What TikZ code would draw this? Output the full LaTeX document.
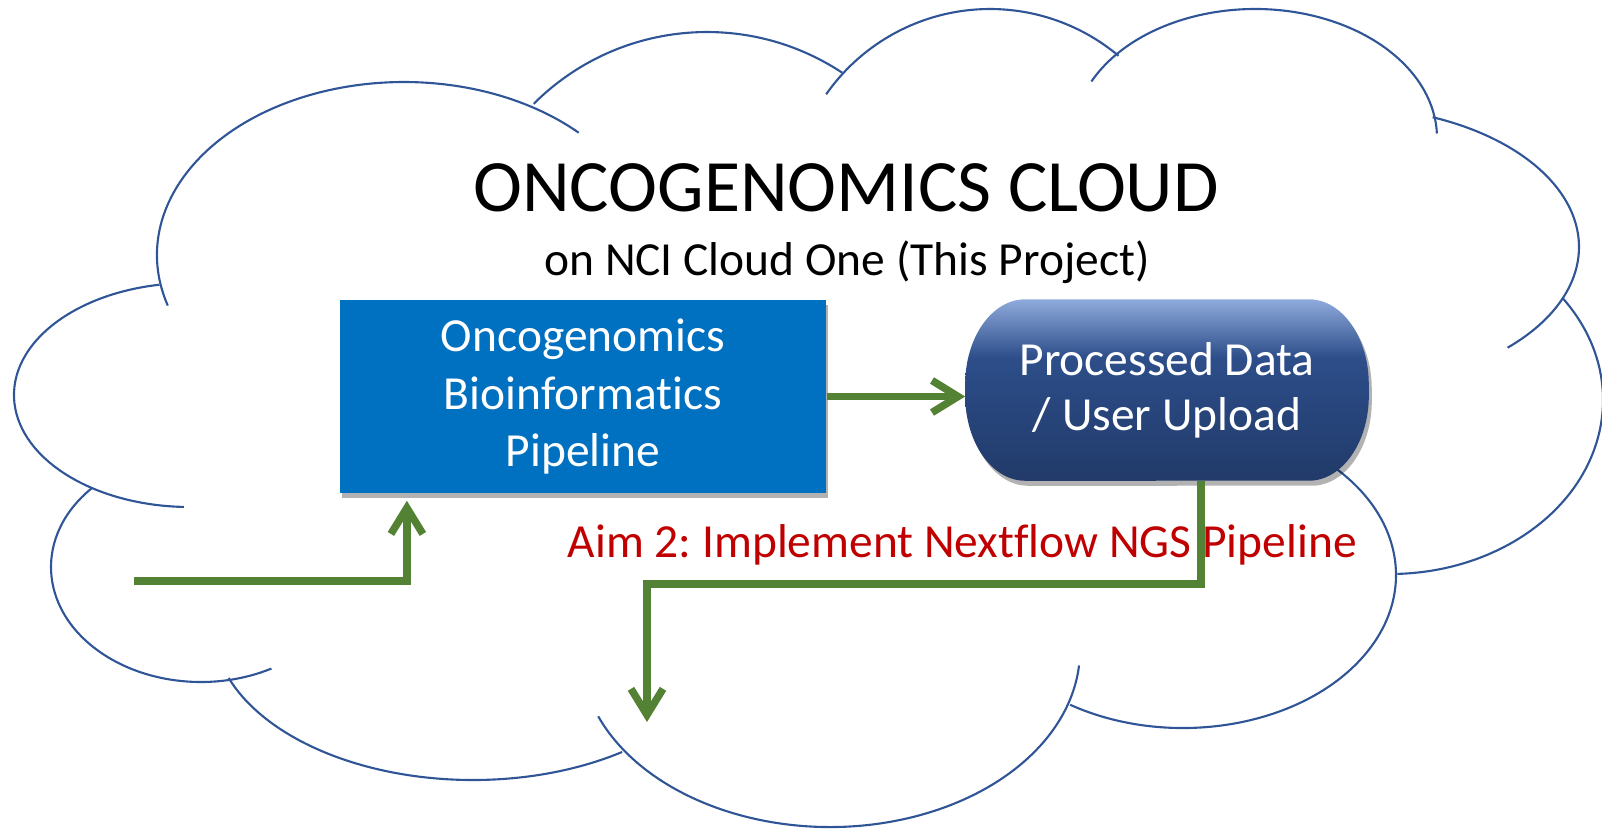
\documentclass[tikz,border=0pt]{standalone}
\usepackage{fontspec}
\setmainfont{Carlito}[Ligatures=NoCommon]
\frenchspacing
\usetikzlibrary{arrows.meta,shadows,backgrounds}

\definecolor{cloudblue}{HTML}{2F5597}
\definecolor{pipeblue}{HTML}{0070C0}
\definecolor{flowgreen}{HTML}{548235}
\definecolor{aimred}{HTML}{C00000}
\definecolor{datatop}{HTML}{8FAADC}
\definecolor{datamid}{HTML}{2D4E8A}
\definecolor{databot}{HTML}{213A69}
\pgfdeclareverticalshading{datafill}{100bp}{color(0bp)=(databot); color(25bp)=(databot); color(59bp)=(datamid); color(75bp)=(datatop); color(100bp)=(datatop)}

\tikzset{
  cloudline/.style={draw=cloudblue, line width=0.6pt},
  flow/.style={draw=flowgreen, line width=0.075cm, -{Straight Barb[length=0.26cm, width=0.32cm]}},
  boxtext/.style={text=white, align=center, inner sep=0pt},
}

\begin{document}
\begin{tikzpicture}[x=0.01cm, y=-0.01cm]
\useasboundingbox (0,0) rectangle (1602,829);

% cloud outline, one arc per bump
\begin{scope}[on background layer]
\draw[cloudline] (404,255) ++(163:247 and 173) arc[start angle=163, end angle=315, x radius=247, y radius=173];
\draw[cloudline] (190,395) ++(260:176 and 112) arc[start angle=260, end angle=92, x radius=176, y radius=112];
\draw[cloudline] (201,567) ++(223:150 and 115) arc[start angle=223, end angle=62, x radius=150, y radius=115];
\draw[cloudline] (473,625) ++(160:260 and 155) arc[start angle=160, end angle=55, x radius=260, y radius=155];
\draw[cloudline] (830,650) ++(158:250 and 177) arc[start angle=158, end angle=5, x radius=250, y radius=177];
\draw[cloudline] (1183,575) ++(122:213 and 153) arc[start angle=122, end angle=-45, x radius=213, y radius=153];
\draw[cloudline] (1390,400) ++(-36:213 and 174) arc[start angle=-36, end angle=88, x radius=213, y radius=174];
\draw[cloudline] (1345,247) ++(292:234 and 140) arc[start angle=292, end angle=406, x radius=234, y radius=140];
\draw[cloudline] (1255,138) ++(206:182 and 129) arc[start angle=206, end angle=358, x radius=182, y radius=129];
\draw[cloudline] (990,209) ++(215:200 and 200) arc[start angle=215, end angle=310, x radius=200, y radius=200];
\draw[cloudline] (707,277) ++(225:245 and 245) arc[start angle=225, end angle=303.5, x radius=245, y radius=245];
\end{scope}

\node[font=\fontsize{21}{25}\selectfont, anchor=base, inner sep=0pt] (title) at (846,211) {ONCOGENOMICS CLOUD};
\node[font=\fontsize{13.5}{16}\selectfont, anchor=base, inner sep=0pt] (subtitle) at (847,275) {on NCI Cloud One (This Project)};

\node[boxtext, font=\fontsize{13.5}{16.3}\selectfont, fill=pipeblue, minimum width=4.86cm, minimum height=1.93cm,
  drop shadow={shadow xshift=0.02cm, shadow yshift=-0.05cm, fill=black, opacity=0.3}] (pipe) at (583,396.5) {Oncogenomics\\Bioinformatics\\Pipeline};
\node[boxtext, font=\fontsize{13.5}{15.7}\selectfont, minimum width=4.02cm, minimum height=1.8cm] (data) at (1167,390) {Processed Data\\/ User Upload};

% capsule behind the data node
\begin{scope}[on background layer]
\fill[black, opacity=0.3, transform canvas={shift={(0.03cm,-0.05cm)}}] ([xshift=0.6cm]data.north west) -- ([xshift=-0.6cm]data.north east)
  arc[start angle=270, end angle=360, x radius=60, y radius=85] -- ([yshift=0.85cm]data.south east)
  arc[start angle=0, end angle=90, x radius=60, y radius=85] -- ([xshift=0.6cm]data.south west)
  arc[start angle=90, end angle=180, x radius=60, y radius=85] -- ([yshift=-0.85cm]data.north west)
  arc[start angle=180, end angle=270, x radius=60, y radius=85] -- cycle;
\shade[shading=datafill] ([xshift=0.6cm]data.north west) -- ([xshift=-0.6cm]data.north east)
  arc[start angle=270, end angle=360, x radius=60, y radius=85] -- ([yshift=0.85cm]data.south east)
  arc[start angle=0, end angle=90, x radius=60, y radius=85] -- ([xshift=0.6cm]data.south west)
  arc[start angle=90, end angle=180, x radius=60, y radius=85] -- ([yshift=-0.85cm]data.north west)
  arc[start angle=180, end angle=270, x radius=60, y radius=85] -- cycle;
\end{scope}

\node[text=aimred, font=\fontsize{13.5}{16}\selectfont, anchor=base west, inner sep=0pt] (aim) at (567,557) {Aim 2: Implement Nextflow NGS Pipeline};

\coordinate (inlet) at (134,581);
\coordinate (turn) at (647,584);
\coordinate (sink) at (647,722);

\draw[flow, shorten >=0.07cm] (inlet) -| ([xshift=-1.76cm]pipe.south);
\draw[flow] (pipe.east) -- (pipe.east -| data.west);
\draw[flow] ([xshift=0.34cm]data.south) |- (turn) -- (sink);

\end{tikzpicture}
\end{document}
